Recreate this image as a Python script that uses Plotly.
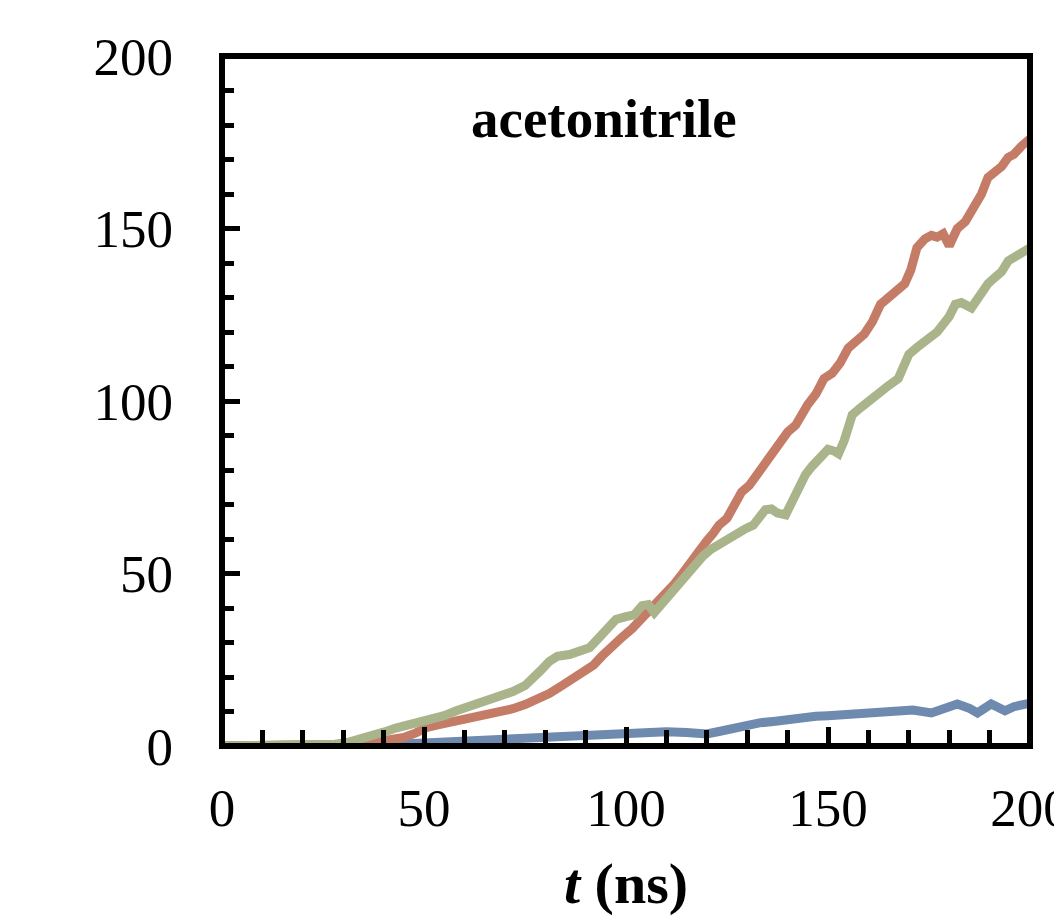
import plotly.graph_objects as go

# Time axis (ns) and cumulative counts for each trajectory
t_red = [0, 5, 10, 15, 20, 25, 30, 33, 36, 39, 42, 45, 48, 51, 54, 57, 60, 63, 66, 69,
         72, 75, 78, 81, 84, 87, 90, 92, 94, 96.5, 99, 101.5, 104, 106, 108, 110, 112,
         114, 116, 118, 120, 121.5, 123, 125, 126.5, 128.6, 130.5, 133, 134.5, 136, 138,
         140, 142, 143.5, 145, 147, 149, 151, 153, 155, 157, 159, 161, 163, 165, 167, 169,
         170.5, 172, 174, 175.6, 177, 178.5, 180, 181, 182, 184, 186, 188, 189.6, 191, 193,
         194.6, 196, 198, 200]
y_red = [0, 0, 0, 0, 0, 0, 0.2, 0.5, 0.8, 1.2, 1.6, 2.5, 3.8, 5.5, 6.3, 7.0, 7.8, 8.8, 9.4,
         10.0, 10.8, 12.0, 13.4, 15.2, 17.4, 19.5, 22.0, 23.5, 26.0, 29.0, 31.5, 34.0, 37.0,
         39.0, 41.5, 44.5, 47.0, 50.0, 53.5, 57.0, 59.5, 61.5, 64.0, 66.0, 69.5, 73.6, 75.5,
         79.5, 82.0, 84.4, 87.0, 91.0, 93.0, 96.5, 99.0, 102.0, 106.5, 108.0, 111.0, 115.3,
         117.0, 119.4, 123.0, 128.0, 130.0, 132.0, 134.0, 138.0, 144.4, 147.0, 148.0, 147.5,
         148.5, 145.0, 147.0, 150.0, 152.0, 156.0, 160.0, 164.8, 166.0, 168.0, 170.6, 171.5,
         174.0, 176.0]

t_green = [0, 5, 10, 15, 20, 25, 28, 31, 34, 37, 40, 43, 46, 49, 52, 55, 58, 60, 63, 66,
           69, 72, 75, 77, 79, 81, 83, 86, 88, 91, 93, 95, 97.5, 100, 102, 104, 105.5, 107,
           109, 111, 113, 115, 117, 119, 121, 123, 125, 127, 129.6, 131.5, 133, 134.5, 136,
           137.5, 139.5, 141, 143, 144.4, 146, 148, 150, 151.5, 152.6, 154, 155, 156, 158,
           160, 162.5, 165, 167.4, 169, 170, 172, 175, 177, 179, 180, 181.5, 183, 185.5, 187,
           189.6, 191, 193, 194.6, 196, 198, 200]
y_green = [0, 0, 0, 0, 0, 0.2, 0.5, 1.0, 1.8, 2.8, 4.0, 5.2, 6.0, 6.8, 7.5, 8.8, 10.2, 11.0,
           12.0, 13.2, 15.0, 15.8, 17.5, 19.5, 22.0, 24.5, 26.0, 26.5, 27.5, 28.5, 31.0, 34.0,
           36.7, 37.5, 38.0, 40.7, 41.0, 38.7, 41.5, 44.0, 46.6, 49.5, 52.0, 55.0, 57.0, 58.5,
           60.0, 61.5, 63.0, 64.0, 66.0, 68.5, 68.7, 67.5, 67.0, 71.0, 75.5, 78.6, 81.0, 84.0,
           86.0, 85.5, 84.7, 88.5, 92.0, 96.0, 98.0, 100.0, 102.8, 104.5, 106.5, 110.0, 113.5,
           115.5, 118.0, 120.0, 123.0, 124.5, 128.0, 128.5, 127.0, 130.0, 134.0, 135.5, 137.5,
           140.6, 141.5, 143.0, 144.4]

t_blue = [0, 10, 20, 30, 35, 40, 45, 50, 55, 60, 65, 70, 75, 80, 85, 90, 95, 100, 105, 110,
          115, 120, 123, 126, 130, 133, 137, 140, 143, 147, 150, 155, 160, 164, 167.4, 171,
          175.6, 179, 182, 185, 187, 190.4, 192, 193.8, 196, 198, 200]
y_blue = [0, 0, 0, 0, 0.1, 0.3, 0.6, 0.9, 1.2, 1.4, 1.6, 1.8, 2.1, 2.5, 2.8, 3.1, 3.4, 3.7,
          3.9, 4.1, 3.9, 3.5, 4.2, 5.0, 5.6, 6.7, 7.2, 7.8, 8.2, 8.6, 8.8, 9.3, 9.6, 10.0, 10.2,
          10.4, 9.6, 10.8, 12.2, 10.9, 9.6, 12.2, 11.4, 10.2, 11.4, 12.2, 12.4]

x_ticks = [0, 50, 100, 150, 200]
y_ticks = [0, 50, 100, 150, 200]

RED = "#C57C66"
GREEN = "#AAB48A"
BLUE = "#6E8AAF"
SERIF = "Liberation Serif, Times New Roman, serif"

fig = go.Figure()
for tx, vy, col in [(t_blue, y_blue, BLUE), (t_red, y_red, RED), (t_green, y_green, GREEN)]:
    fig.add_trace(go.Scatter(x=tx, y=vy, mode="lines",
                             line=dict(color=col, width=9), showlegend=False,
                             hoverinfo="skip", cliponaxis=False))

axis_common = dict(
    showgrid=False, zeroline=False, showline=False, automargin=False,
    ticks="inside", tickwidth=5, tickcolor="black", ticklabeloverflow="allow",
    tickfont=dict(family=SERIF, size=53, color="black"),
)

fig.update_xaxes(
    range=[0, 200], tickmode="array", tickvals=x_ticks,
    ticktext=[str(v) for v in x_ticks], ticklen=19, ticklabelstandoff=26,
    minor=dict(ticks="inside", dtick=10, ticklen=16, tickwidth=5, tickcolor="black"),
    title=dict(text="<b><i>t</i> (ns)</b>", font=dict(family=SERIF, size=58, color="black"),
               standoff=38),
    **axis_common,
)
fig.update_yaxes(
    range=[0, 200], tickmode="array", tickvals=y_ticks,
    ticktext=[str(v) for v in y_ticks], ticklen=18, ticklabelstandoff=48,
    minor=dict(ticks="inside", dtick=10, ticklen=12, tickwidth=5, tickcolor="black"),
    **axis_common,
)

# Frame around the plotting area
fig.add_shape(type="rect", xref="paper", yref="paper", x0=0, x1=1, y0=0, y1=1,
              line=dict(color="black", width=6), layer="above")

fig.add_annotation(text="<b>acetonitrile</b>", xref="x", yref="y", x=94.5, y=182,
                   showarrow=False, font=dict(family=SERIF, size=55, color="black"))

fig.update_layout(
    width=1054, height=916,
    margin=dict(l=222, r=24, t=56, b=170, pad=0, autoexpand=False),
    plot_bgcolor="white", paper_bgcolor="white",
)

fig.write_html("out.html")
